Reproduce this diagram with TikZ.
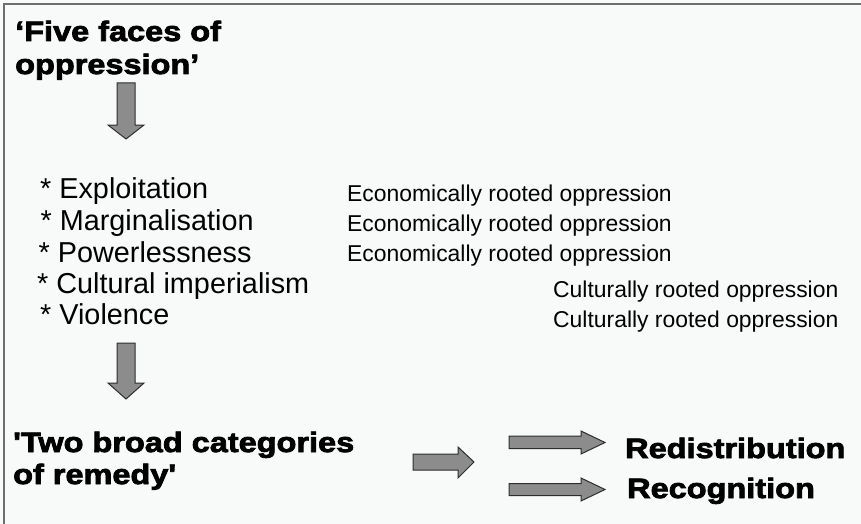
\documentclass[tikz,border=0pt]{standalone}
\usepackage{fontspec}
\setmainfont{Liberation Sans}
\newfontfamily\heavyfont{Liberation Sans}[UprightFont={* Bold}, FakeBold=2.8, FakeStretch=1.16]
\begin{document}
\begin{tikzpicture}[x=1pt, y=-1pt,
  heading/.style={inner sep=0pt, anchor=base west, font=\heavyfont\fontsize{28}{32}\selectfont},
  bullet/.style={inner sep=0pt, anchor=base west, font=\fontsize{28.8}{31}\selectfont},
  rooted/.style={inner sep=0pt, anchor=base west, font=\fontsize{22.9}{26}\selectfont},
  blockarrow/.style={fill={rgb,255:red,140;green,140;blue,140}, draw={rgb,255:red,45;green,45;blue,45}, line width=1pt, line join=miter}]
  \definecolor{pagebg}{RGB}{248,250,250}
  \definecolor{framegray}{RGB}{110,110,110}
  % page and frame
  \fill[pagebg] (0,0) rectangle (861,524);
  \useasboundingbox (0,0) rectangle (861,524);
  \draw[framegray, line width=1.6pt] (4,524) -- (4,4) -- (861,4);

  % headings
  \node[heading] (five1) at (15,41) {‘Five faces of};
  \node[heading] (five2) at (15,74) {oppression’};
  \node[heading] (two1) at (13,452) {'Two broad categories};
  \node[heading] (two2) at (13,484) {of remedy'};
  \node[heading] (redis) at (625,458) {Redistribution};
  \node[heading] (recog) at (627,498) {Recognition};

  % list of the five faces
  \node[bullet] (b1) at (40,198) {* Exploitation};
  \node[bullet] (b2) at (40.5,230) {* Marginalisation};
  \node[bullet] (b3) at (38.5,262) {* Powerlessness};
  \node[bullet] (b4) at (37,293) {* Cultural imperialism};
  \node[bullet] (b5) at (40,324) {* Violence};

  % roots of each face
  \node[rooted] (r1) at (347,201) {Economically rooted oppression};
  \node[rooted] (r2) at (347,231) {Economically rooted oppression};
  \node[rooted] (r3) at (347,261) {Economically rooted oppression};
  \node[rooted] (r4) at (553,297) {Culturally rooted oppression};
  \node[rooted] (r5) at (553,327) {Culturally rooted oppression};

  % block arrows
  \draw[blockarrow] (117,83) -- (135,83) -- (135,125) -- (144,125) -- (126,139) -- (108,125) -- (117,125) -- cycle;
  \draw[blockarrow] (117,343) -- (135,343) -- (135,383) -- (144,383) -- (126,399) -- (108,383) -- (117,383) -- cycle;
  \draw[blockarrow] (413,454) -- (458,454) -- (458,447) -- (474,462) -- (458,478) -- (458,470) -- (413,470) -- cycle;
  \draw[blockarrow] (509,436) -- (581,436) -- (581,431) -- (605,442.5) -- (581,454) -- (581,448.5) -- (509,448.5) -- cycle;
  \draw[blockarrow] (509,483.5) -- (581,483.5) -- (581,478) -- (605,489.5) -- (581,501) -- (581,495.5) -- (509,495.5) -- cycle;
\end{tikzpicture}
\end{document}
